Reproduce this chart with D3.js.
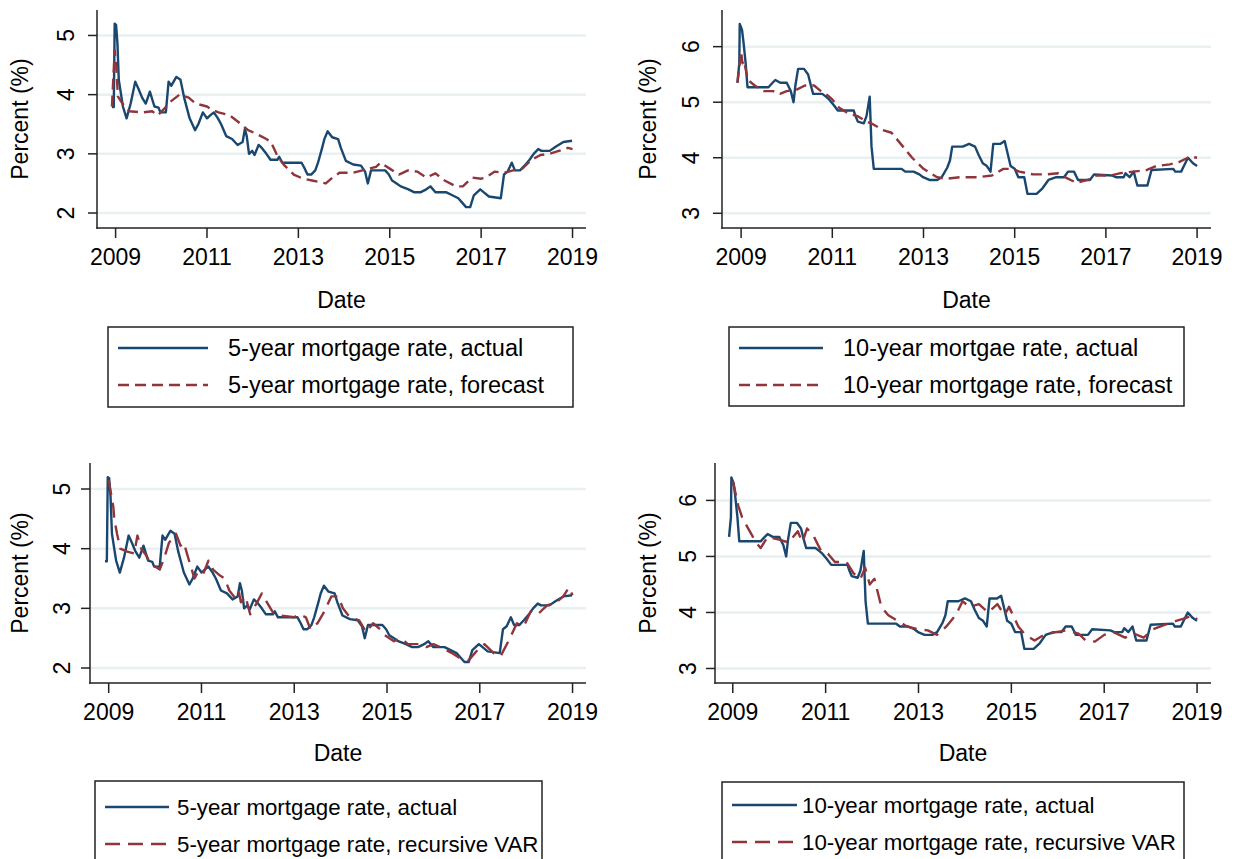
<!DOCTYPE html>
<html>
<head>
<meta charset="utf-8">
<script src="https://cdn.jsdelivr.net/npm/d3@7"></script>
<style>
	body { margin: 0; background: #fff; }
	svg { display: block; font-family: "Liberation Sans", Arial, sans-serif; }
	.grid line { stroke: #e8f0f2; stroke-width: 2.5; }
	.axisline { stroke: #222; stroke-width: 1.5; }
	.tick-mark { stroke: #222; stroke-width: 1.5; }
	.lbl { fill: #000; font-size: 23px; }
	.line { fill: none; stroke-width: 2.4; stroke-linejoin: round; }
	.actual { stroke: #1a476f; }
	.forecast { stroke: #90353b; }
</style>
</head>
<body>
<svg id="chart" width="1243" height="859"></svg>
<script>
	//year ticks and y ticks
	var yearTicks = [2009, 2011, 2013, 2015, 2017, 2019];
	var ticks5 = [2, 3, 4, 5];
	var ticks10 = [3, 4, 5, 6];

	//5-year mortgage rate, actual [year, percent]
	var act5 = [[2008.92,3.79],[2008.96,3.79],[2008.98,5.2],[2009.01,5.18],[2009.04,4.87],[2009.07,4.25],[2009.16,3.8],[2009.24,3.6],[2009.33,3.85],[2009.43,4.22],[2009.5,4.1],[2009.58,3.95],[2009.66,3.85],[2009.75,4.05],[2009.85,3.8],[2009.94,3.78],[2009.98,3.7],[2010.1,3.7],[2010.16,4.22],[2010.22,4.15],[2010.27,4.22],[2010.33,4.3],[2010.42,4.25],[2010.5,3.95],[2010.62,3.6],[2010.74,3.4],[2010.81,3.5],[2010.91,3.7],[2011.0,3.6],[2011.07,3.65],[2011.15,3.7],[2011.24,3.6],[2011.31,3.5],[2011.42,3.3],[2011.55,3.25],[2011.61,3.2],[2011.67,3.15],[2011.78,3.2],[2011.83,3.42],[2011.87,3.3],[2011.92,3.0],[2011.99,3.05],[2012.04,2.98],[2012.13,3.15],[2012.2,3.1],[2012.3,3.0],[2012.39,2.9],[2012.54,2.9],[2012.58,2.95],[2012.65,2.85],[2013.07,2.85],[2013.14,2.75],[2013.2,2.65],[2013.28,2.65],[2013.37,2.72],[2013.43,2.85],[2013.52,3.1],[2013.57,3.25],[2013.64,3.38],[2013.74,3.28],[2013.87,3.25],[2013.93,3.1],[2014.04,2.88],[2014.2,2.82],[2014.37,2.8],[2014.46,2.7],[2014.52,2.5],[2014.59,2.72],[2014.9,2.72],[2014.98,2.65],[2015.05,2.55],[2015.15,2.5],[2015.24,2.45],[2015.41,2.4],[2015.54,2.35],[2015.67,2.35],[2015.8,2.4],[2015.89,2.45],[2016.0,2.35],[2016.24,2.35],[2016.37,2.3],[2016.5,2.25],[2016.58,2.18],[2016.67,2.1],[2016.76,2.1],[2016.84,2.3],[2016.98,2.4],[2017.06,2.35],[2017.17,2.28],[2017.43,2.25],[2017.5,2.65],[2017.58,2.7],[2017.67,2.85],[2017.74,2.72],[2017.85,2.72],[2017.95,2.8],[2018.06,2.9],[2018.15,3.0],[2018.25,3.08],[2018.32,3.05],[2018.5,3.05],[2018.63,3.12],[2018.8,3.2],[2018.99,3.22]];

	//5-year mortgage rate, forecast
	var fc5 = [[2008.92,3.8],[2008.98,4.75],[2009.02,4.4],[2009.05,3.97],[2009.15,3.85],[2009.3,3.72],[2009.6,3.7],[2009.8,3.72],[2009.92,3.65],[2010.05,3.75],[2010.2,3.88],[2010.4,4.0],[2010.6,3.95],[2010.75,3.85],[2011.0,3.8],[2011.1,3.75],[2011.25,3.7],[2011.5,3.65],[2011.75,3.5],[2011.9,3.4],[2012.05,3.35],[2012.3,3.25],[2012.4,3.2],[2012.55,2.95],[2012.7,2.8],[2012.9,2.65],[2013.1,2.58],[2013.3,2.55],[2013.6,2.5],[2013.75,2.6],[2013.9,2.68],[2014.2,2.68],[2014.4,2.72],[2014.7,2.78],[2014.8,2.85],[2015.0,2.75],[2015.2,2.65],[2015.4,2.72],[2015.6,2.7],[2015.8,2.6],[2016.0,2.67],[2016.2,2.55],[2016.45,2.45],[2016.6,2.45],[2016.8,2.6],[2017.0,2.58],[2017.1,2.6],[2017.3,2.7],[2017.5,2.68],[2017.7,2.72],[2017.9,2.75],[2018.1,2.9],[2018.3,2.98],[2018.5,3.0],[2018.7,3.05],[2018.9,3.1],[2019.0,3.08]];

	//10-year mortgage rate, actual
	var act10 = [[2008.92,5.35],[2008.96,5.7],[2008.97,6.41],[2009.02,6.3],[2009.05,6.1],[2009.1,5.7],[2009.14,5.27],[2009.6,5.27],[2009.69,5.35],[2009.75,5.4],[2009.86,5.35],[2010.0,5.35],[2010.09,5.2],[2010.15,5.0],[2010.19,5.3],[2010.25,5.6],[2010.38,5.6],[2010.47,5.5],[2010.53,5.3],[2010.58,5.15],[2010.78,5.15],[2010.86,5.1],[2010.93,5.05],[2011.03,4.95],[2011.12,4.85],[2011.47,4.85],[2011.51,4.75],[2011.56,4.65],[2011.69,4.62],[2011.75,4.75],[2011.82,5.1],[2011.86,4.2],[2011.91,3.8],[2012.52,3.8],[2012.6,3.75],[2012.78,3.75],[2012.91,3.7],[2012.99,3.65],[2013.13,3.6],[2013.3,3.6],[2013.4,3.65],[2013.52,3.82],[2013.58,3.95],[2013.63,4.2],[2013.86,4.2],[2014.0,4.25],[2014.13,4.2],[2014.21,4.05],[2014.3,3.9],[2014.39,3.85],[2014.47,3.75],[2014.53,4.25],[2014.69,4.25],[2014.78,4.3],[2014.91,3.85],[2015.0,3.8],[2015.08,3.65],[2015.21,3.65],[2015.28,3.35],[2015.48,3.35],[2015.61,3.45],[2015.74,3.6],[2015.91,3.65],[2016.08,3.65],[2016.17,3.75],[2016.3,3.75],[2016.39,3.6],[2016.65,3.6],[2016.74,3.7],[2017.13,3.68],[2017.22,3.65],[2017.39,3.65],[2017.43,3.72],[2017.52,3.65],[2017.61,3.75],[2017.69,3.5],[2017.91,3.5],[2018.0,3.78],[2018.48,3.8],[2018.52,3.75],[2018.65,3.75],[2018.74,3.9],[2018.8,4.0],[2018.91,3.9],[2019.0,3.85]];

	//10-year mortgage rate, forecast
	var fc10 = [[2008.92,5.35],[2009.0,5.91],[2009.03,5.7],[2009.06,5.75],[2009.15,5.4],[2009.3,5.3],[2009.5,5.2],[2009.7,5.2],[2009.85,5.15],[2010.0,5.2],[2010.2,5.22],[2010.4,5.3],[2010.6,5.3],[2010.75,5.2],[2010.9,5.12],[2011.0,5.05],[2011.15,4.9],[2011.35,4.8],[2011.55,4.75],[2011.75,4.65],[2011.9,4.6],[2012.1,4.5],[2012.3,4.45],[2012.55,4.2],[2012.75,4.0],[2013.0,3.8],[2013.3,3.65],[2013.5,3.62],[2013.8,3.65],[2014.2,3.65],[2014.5,3.68],[2014.75,3.8],[2014.95,3.8],[2015.1,3.75],[2015.4,3.7],[2015.7,3.7],[2015.95,3.72],[2016.1,3.65],[2016.35,3.55],[2016.6,3.6],[2016.8,3.68],[2017.1,3.68],[2017.3,3.72],[2017.6,3.75],[2017.9,3.78],[2018.1,3.85],[2018.4,3.88],[2018.6,3.92],[2018.85,4.02],[2019.0,4.0]];

	//5-year mortgage rate, recursive VAR
	var var5 = [[2009.0,5.15],[2009.1,4.7],[2009.12,4.5],[2009.18,4.25],[2009.25,4.0],[2009.4,3.95],[2009.55,3.92],[2009.62,4.22],[2009.7,4.0],[2009.8,3.9],[2009.9,3.75],[2010.1,3.65],[2010.2,3.85],[2010.3,4.1],[2010.45,4.25],[2010.55,4.05],[2010.62,4.1],[2010.75,3.75],[2010.85,3.5],[2010.95,3.65],[2011.05,3.6],[2011.15,3.8],[2011.25,3.65],[2011.4,3.55],[2011.5,3.5],[2011.6,3.3],[2011.7,3.2],[2011.8,3.3],[2011.85,3.1],[2011.95,3.2],[2012.05,2.9],[2012.2,3.1],[2012.3,3.25],[2012.45,3.05],[2012.55,2.92],[2012.7,2.88],[2013.0,2.85],[2013.1,2.9],[2013.25,2.85],[2013.35,2.65],[2013.5,2.75],[2013.65,2.95],[2013.8,3.2],[2013.95,3.2],[2014.05,3.0],[2014.2,2.85],[2014.4,2.8],[2014.55,2.6],[2014.7,2.75],[2014.85,2.65],[2014.95,2.55],[2015.15,2.45],[2015.3,2.5],[2015.45,2.4],[2015.7,2.4],[2015.85,2.35],[2016.0,2.4],[2016.2,2.33],[2016.4,2.25],[2016.6,2.15],[2016.75,2.12],[2016.95,2.3],[2017.1,2.4],[2017.3,2.25],[2017.45,2.2],[2017.65,2.5],[2017.8,2.75],[2017.95,2.7],[2018.1,2.95],[2018.25,2.9],[2018.45,3.05],[2018.65,3.1],[2018.8,3.2],[2018.92,3.35],[2019.0,3.22]];

	//10-year mortgage rate, recursive VAR
	var var10 = [[2009.0,6.35],[2009.12,5.9],[2009.2,5.7],[2009.33,5.5],[2009.5,5.25],[2009.6,5.15],[2009.75,5.35],[2010.0,5.3],[2010.2,5.25],[2010.4,5.45],[2010.5,5.25],[2010.6,5.5],[2010.75,5.35],[2010.9,5.1],[2011.05,5.05],[2011.2,4.9],[2011.45,4.9],[2011.6,4.7],[2011.75,4.6],[2011.85,4.8],[2011.95,4.5],[2012.05,4.6],[2012.2,4.1],[2012.35,3.95],[2012.55,3.85],[2012.75,3.75],[2013.0,3.7],[2013.2,3.68],[2013.4,3.6],[2013.6,3.75],[2013.8,3.95],[2013.95,4.2],[2014.1,4.1],[2014.3,4.15],[2014.5,4.0],[2014.7,4.15],[2014.85,3.95],[2014.95,4.1],[2015.15,3.75],[2015.3,3.6],[2015.5,3.5],[2015.7,3.6],[2015.95,3.65],[2016.2,3.68],[2016.45,3.62],[2016.6,3.5],[2016.8,3.48],[2017.0,3.6],[2017.2,3.65],[2017.45,3.55],[2017.65,3.62],[2017.85,3.55],[2018.05,3.7],[2018.3,3.78],[2018.55,3.85],[2018.75,3.9],[2018.9,3.95],[2019.0,3.88]];

	//legend texts
	var legend1 = ["5-year mortgage rate, actual", "5-year mortgage rate, forecast"];
	var legend2 = ["10-year mortgae rate, actual", "10-year mortgage rate, forecast"];
	var legend3 = ["5-year mortgage rate, actual", "5-year mortgage rate, recursive VAR"];
	var legend4 = ["10-year mortgage rate, actual", "10-year mortgage rate, recursive VAR"];

	var svg = d3.select("#chart");

	//panel layout (pixels of the picture)
	var panels = [
		{left: 97, right: 586, top: 10, bottom: 228, xDom: [2008.593, 2019.295], yDom: [1.747, 5.43], yTicks: ticks5,
		 act: act5, fc: fc5, dash: "11,6", tickX: 66, titleX: 20, tickY: 257, dateY: 300,
		 legend: legend1, box: [108, 327, 573, 407], sample: [118, 208], textX: 228, rows: [348, 385], lfont: 23.5},
		{left: 722, right: 1211, top: 10, bottom: 228, xDom: [2008.581, 2019.305], yDom: [2.735, 6.66], yTicks: ticks10,
		 act: act10, fc: fc10, dash: "11,6", tickX: 691, titleX: 648, tickY: 257, dateY: 300,
		 legend: legend2, box: [729, 327, 1184, 406], sample: [739, 823], textX: 843, rows: [348, 385], lfont: 23.5},
		{left: 90, right: 586, top: 463, bottom: 683, xDom: [2008.597, 2019.29], yDom: [1.749, 5.436], yTicks: ticks5,
		 act: act5, fc: var5, dash: "15,8", tickX: 62, titleX: 20, tickY: 712, dateY: 753,
		 legend: legend3, box: [95, 781, 542, 880], sample: [105, 169], textX: 177, rows: [807, 844], lfont: 22.3},
		{left: 715, right: 1211, top: 463, bottom: 683, xDom: [2008.617, 2019.3], yDom: [2.741, 6.668], yTicks: ticks10,
		 act: act10, fc: var10, dash: "15,8", tickX: 688, titleX: 648, tickY: 712, dateY: 753,
		 legend: legend4, box: [722, 782, 1184, 880], sample: [732, 797], textX: 802, rows: [805, 842], lfont: 22.3}
	];

	panels.forEach(function(p) {
		var x = d3.scaleLinear().domain(p.xDom).range([p.left, p.right]);
		var y = d3.scaleLinear().domain(p.yDom).range([p.bottom, p.top]);
		var g = svg.append("g");

		// gridlines
		g.append("g")
			.attr("class", "grid")
			.selectAll("line")
			.data(p.yTicks)
			.enter().append("line")
			.attr("x1", p.left).attr("x2", p.right)
			.attr("y1", function(d) { return y(d); })
			.attr("y2", function(d) { return y(d); });

		// series
		var line = d3.line()
			.x(function(d) { return x(d[0]); })
			.y(function(d) { return y(d[1]); });
		g.append("path").datum(p.act).attr("class", "line actual").attr("d", line);
		g.append("path").datum(p.fc).attr("class", "line forecast")
			.attr("stroke-dasharray", p.dash).attr("d", line);

		// axes
		g.append("line").attr("class", "axisline")
			.attr("x1", p.left).attr("x2", p.left).attr("y1", p.top).attr("y2", p.bottom + 0.75);
		g.append("line").attr("class", "axisline")
			.attr("x1", p.left - 0.75).attr("x2", p.right).attr("y1", p.bottom).attr("y2", p.bottom);

		g.selectAll(".ytick").data(p.yTicks).enter().append("line")
			.attr("class", "tick-mark")
			.attr("x1", p.left - 9).attr("x2", p.left)
			.attr("y1", function(d) { return y(d); })
			.attr("y2", function(d) { return y(d); });
		g.selectAll(".ylab").data(p.yTicks).enter().append("text")
			.attr("class", "lbl")
			.attr("text-anchor", "middle")
			.attr("dy", "0.36em")
			.attr("transform", function(d) { return "translate(" + p.tickX + "," + y(d) + ") rotate(-90)"; })
			.text(function(d) { return d; });

		g.selectAll(".xtick").data(yearTicks).enter().append("line")
			.attr("class", "tick-mark")
			.attr("x1", function(d) { return x(d); })
			.attr("x2", function(d) { return x(d); })
			.attr("y1", p.bottom).attr("y2", p.bottom + 10);
		g.selectAll(".xlab").data(yearTicks).enter().append("text")
			.attr("class", "lbl")
			.attr("text-anchor", "middle")
			.attr("x", function(d) { return x(d); })
			.attr("y", p.tickY)
			.attr("dy", "0.36em")
			.text(function(d) { return d; });

		// axis titles
		g.append("text").attr("class", "lbl")
			.attr("text-anchor", "middle")
			.attr("x", (p.left + p.right) / 2)
			.attr("y", p.dateY)
			.attr("dy", "0.36em")
			.text("Date");
		g.append("text").attr("class", "lbl")
			.attr("text-anchor", "middle")
			.attr("dy", "0.36em")
			.attr("transform", "translate(" + p.titleX + "," + (p.top + p.bottom) / 2 + ") rotate(-90)")
			.text("Percent (%)");

		// legend
		var b = p.box;
		g.append("rect")
			.attr("x", b[0]).attr("y", b[1])
			.attr("width", b[2] - b[0]).attr("height", b[3] - b[1])
			.attr("fill", "#fff").attr("stroke", "#222").attr("stroke-width", 1.5);
		var cls = ["actual", "forecast"];
		p.legend.forEach(function(t, i) {
			g.append("line")
				.attr("class", "line " + cls[i])
				.attr("x1", p.sample[0]).attr("x2", p.sample[1])
				.attr("y1", p.rows[i]).attr("y2", p.rows[i])
				.attr("stroke-dasharray", i ? p.dash : null);
			g.append("text").attr("class", "lbl")
				.style("font-size", p.lfont + "px")
				.attr("x", p.textX).attr("y", p.rows[i])
				.attr("dy", "0.36em")
				.text(t);
		});
	});
</script>
</body>
</html>
